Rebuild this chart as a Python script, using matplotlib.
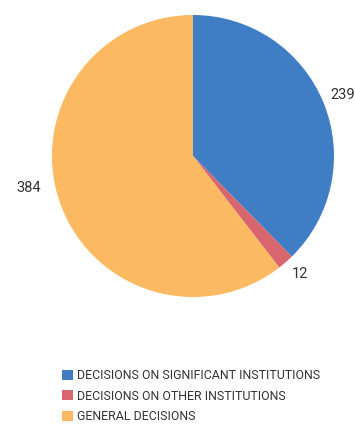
import matplotlib
matplotlib.use("Agg")
import matplotlib.pyplot as plt
import numpy as np

categories = ["DECISIONS ON SIGNIFICANT INSTITUTIONS",
              "DECISIONS ON OTHER INSTITUTIONS",
              "GENERAL DECISIONS"]
values = [239, 12, 384]
colors = ["#3F7EC5", "#D8666F", "#FBB961"]

plt.rcParams['font.family'] = ['Roboto', 'DejaVu Sans']

W, H = 355, 426
fig = plt.figure(figsize=(W/100, H/100), dpi=100)
cx, cy, r = 193, 156, 141
ax = fig.add_axes([(cx - r)/W, (H - cy - r)/H, 2*r/W, 2*r/H])
wedges, texts = ax.pie(values, colors=colors, startangle=90, counterclock=False,
                       labels=[str(v) for v in values], labeldistance=1.15,
                       wedgeprops=dict(linewidth=0))
dists = [1.15, 1.13, 1.19]
offs = [0, 1, -8]
for w, t, d, o in zip(wedges, texts, dists, offs):
    ang = np.deg2rad((w.theta1 + w.theta2)/2 + o)
    t.set_position((d*np.cos(ang), d*np.sin(ang)))
    t.set_ha('center'); t.set_va('center')
    t.set_fontsize(10.5); t.set_color('#333333')
ax.set_xlim(-1, 1); ax.set_ylim(-1, 1)
ax.set_aspect('equal')
ax.axis('off')

# choose legend font size so the longest entry is about as wide as in the reference
renderer = fig.canvas.get_renderer()
probe = fig.text(0, 0, categories[0], fontsize=10)
wpx = probe.get_window_extent(renderer).width
probe.remove()
fs = 10 * 243 / wpx

leg = fig.legend(wedges, categories, loc='upper left',
                 bbox_to_anchor=(62/W, 1 - 369/H), frameon=False,
                 handlelength=0.85, handleheight=0.85, handletextpad=0.35,
                 labelspacing=0.62, fontsize=fs, borderpad=0, borderaxespad=0)
for t in leg.get_texts():
    t.set_color('#333333')

fig.savefig("out.png", dpi=100)
